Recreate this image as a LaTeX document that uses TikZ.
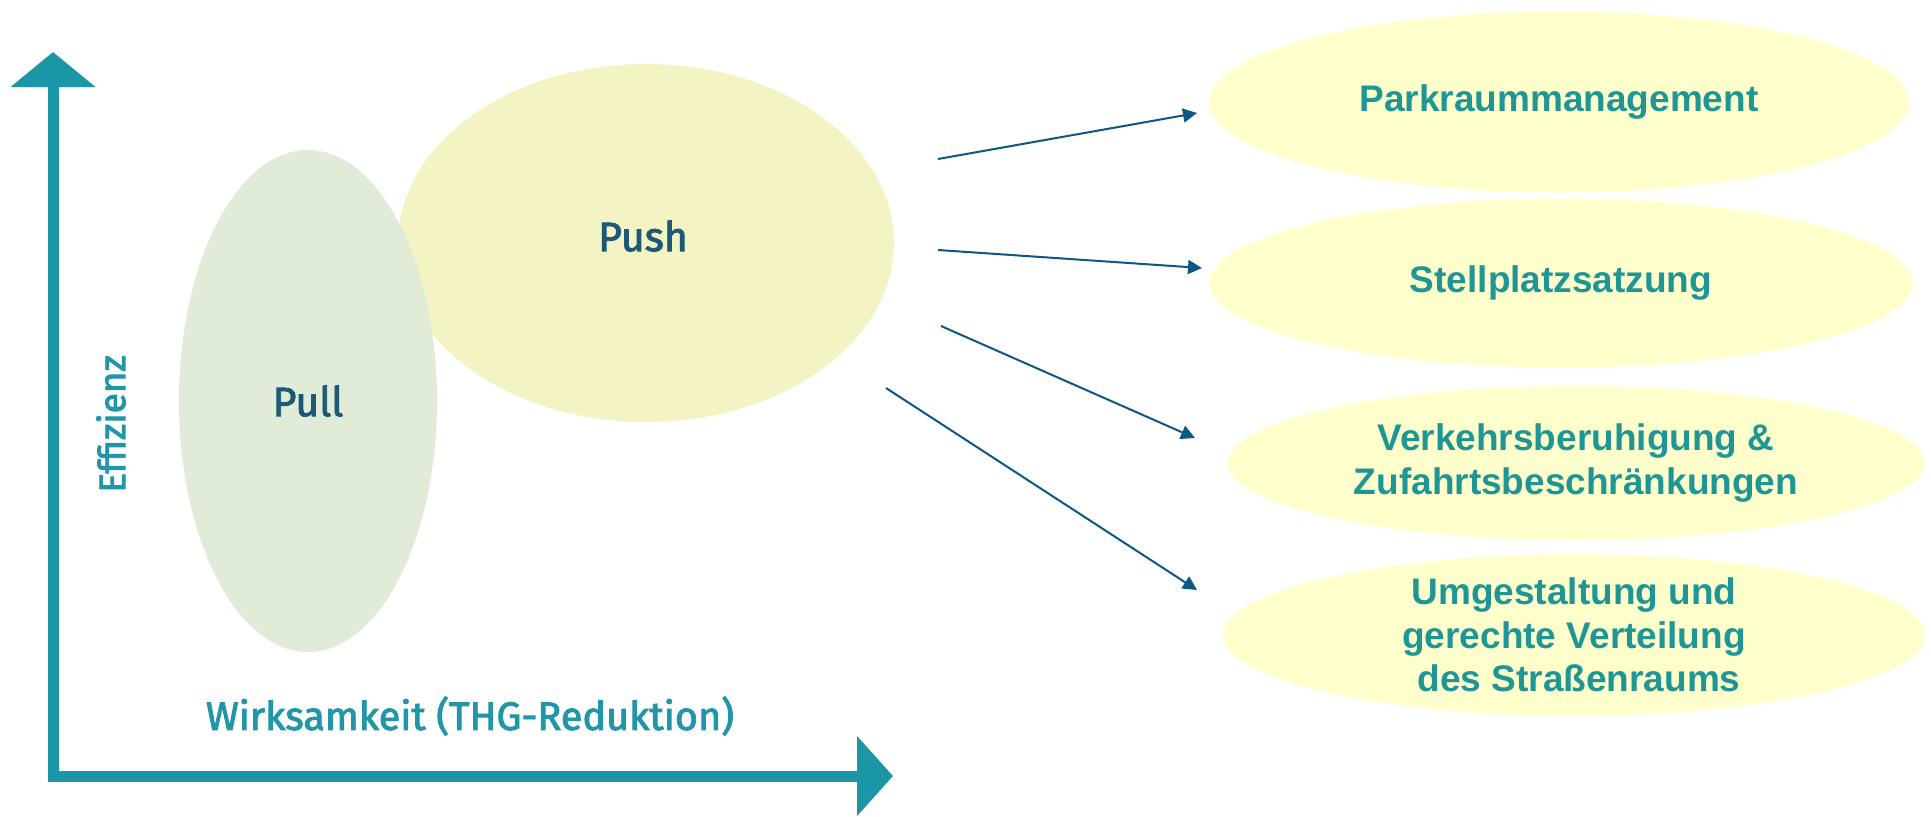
\documentclass[tikz,border=0pt]{standalone}
\usepackage{fontspec}
\setmainfont{Liberation Sans}
\newfontfamily\dinfont{Fira Sans}
\newcommand\medtext[1]{\special{pdf:literal direct 2 Tr 0.45 w}#1\special{pdf:literal direct 0 Tr}}
\usetikzlibrary{shapes.geometric,arrows.meta}
\definecolor{axisteal}{HTML}{1B96A6}
\definecolor{axislabel}{HTML}{2096A8}
\definecolor{pushfill}{HTML}{F3F3C3}
\definecolor{pullfill}{HTML}{E0ECD7}
\definecolor{darkblue}{HTML}{1E5877}
\definecolor{arrowblue}{HTML}{0D5882}
\definecolor{measfill}{HTML}{FFFFCC}
\definecolor{measteal}{HTML}{1E9696}
\tikzset{
  blob/.style={ellipse, inner sep=0pt, draw=none},
  bigtext/.style={font=\dinfont\fontsize{20.5pt}{24pt}\selectfont, text=darkblue},
  axistext/.style={font=\dinfont\fontsize{19.8pt}{23pt}\selectfont, text=axislabel},
  measure/.style={ellipse, inner sep=0pt, draw=none, fill=measfill, text=measteal,
    align=center, font=\bfseries\fontsize{18.5pt}{21.75pt}\selectfont},
  link/.style={draw=arrowblue, line width=1pt, -{Triangle[length=7pt,width=7pt]}},
  axisline/.style={draw=axisteal, line width=5.5pt, line join=miter}
}
\begin{document}
\begin{tikzpicture}[x=0.5pt,y=-0.5pt]
\useasboundingbox (0,0) rectangle (1931,816);
% axes
\coordinate (ytip) at (53,52);
\coordinate (corner) at (53,776);
\coordinate (xtip) at (893,776);
\draw[axisline, {Triangle[length=17.5pt,width=41.5pt]}-{Triangle[length=18pt,width=39pt]}]
  (ytip) -- (corner) -- (xtip);
% Push / Pull
\node[blob, fill=pushfill, minimum width=248pt, minimum height=179pt] (push) at (646,243) {};
\node[bigtext] (pushlabel) at (643,236) {\medtext{Push}};
\node[blob, fill=pullfill, minimum width=129pt, minimum height=251pt, bigtext] (pull) at (308,401) {\medtext{Pull}};
% axis labels
\node[axistext] (xlabel) at (470,716) {\medtext{Wirksamkeit (THG-Reduktion)}};
\node[axistext, rotate=90, font=\dinfont\fontsize{18.5pt}{22pt}\selectfont] (ylabel) at (111,424) {\medtext{Effizienz}};
% measures
\node[measure, minimum width=350pt, minimum height=90.5pt] (m1) at (1559,102) {Parkraummanagement};
\node[measure, minimum width=351.5pt, minimum height=84.5pt] (m2) at (1561,283) {Stellplatzsatzung};
\node[measure, minimum width=348.5pt, minimum height=77pt] (m3) at (1576,463) {Verkehrsberuhigung \&\\Zufahrtsbeschränkungen};
\node[measure, minimum width=351pt, minimum height=77pt] (m4) at (1574,635) {Umgestaltung und\\gerechte Verteilung\\\ des Straßenraums};
% connectors
\coordinate (s1) at (938,159); \coordinate (e1) at (1197,113);
\coordinate (s2) at (938,250); \coordinate (e2) at (1202,268);
\coordinate (s3) at (941,326); \coordinate (e3) at (1195,438);
\coordinate (s4) at (886,388); \coordinate (e4) at (1197,590);
\draw[link] (s1) -- (e1);
\draw[link] (s2) -- (e2);
\draw[link] (s3) -- (e3);
\draw[link] (s4) -- (e4);
\end{tikzpicture}
\end{document}
